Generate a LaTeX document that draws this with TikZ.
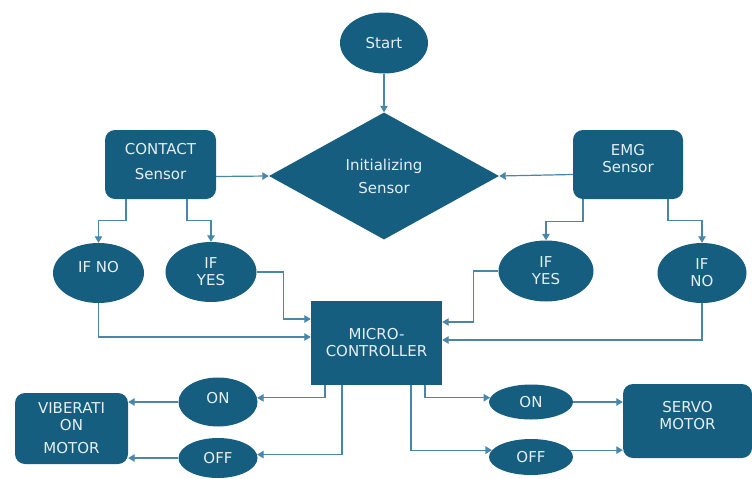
\documentclass[tikz,border=0pt]{standalone}
\usepackage{fontspec}
\setmainfont{DejaVu Sans}
\usepackage{tikz}
\usepackage{xcolor}
\usetikzlibrary{arrows.meta, shapes.geometric}

\definecolor{boxblue}{HTML}{165E7F}
\definecolor{lineblue}{HTML}{4A86A8}
\definecolor{boxtext}{HTML}{E6EEF2}

\begin{document}
\begin{tikzpicture}[
    x=1pt, y=-1pt,
    font=\fontsize{15}{17}\selectfont,
    oval/.style={
        ellipse,
        fill=boxblue,
        text=boxtext,
        align=center,
        inner sep=0pt
    },
    box/.style={
        rectangle,
        rounded corners=10pt,
        fill=boxblue,
        text=boxtext,
        align=center,
        inner sep=0pt
    },
    arrow/.style={-{Triangle[length=6.5pt,width=7.5pt]}, draw=lineblue, line width=1.2pt}
]

\useasboundingbox (0,0) rectangle (752,479);

\node[oval, minimum width=88pt, minimum height=61pt] (start) at (384,43) {Start};
\node[diamond, fill=boxblue, text=boxtext, align=center, inner sep=0pt,
      minimum width=230pt, minimum height=127pt] (init) at (384,176)
      {Initializing\\[6pt]Sensor};

\node[box, minimum width=111pt, minimum height=69pt] (contact) at (160.5,164.5)
      {CONTACT\\[8pt]Sensor\\[-10pt]};
\node[box, minimum width=110pt, minimum height=69pt] (emg) at (628,164.5)
      {EMG\\Sensor\\[-4pt]};

\node[oval, minimum width=91pt, minimum height=60pt] (ifnoL) at (98.5,273) {IF NO\\[-5pt]};
\node[oval, minimum width=91pt, minimum height=60pt] (ifyesL) at (211,272) {IF\\YES};
\node[oval, minimum width=95pt, minimum height=61pt] (ifyesR) at (546,271) {IF\\YES};
\node[oval, minimum width=89pt, minimum height=60pt] (ifnoR) at (702,273) {IF\\NO};

\node[rectangle, fill=boxblue, text=boxtext, align=center, inner sep=0pt,
      minimum width=131pt, minimum height=84pt] (mc) at (376.5,343)
      {MICRO-\\CONTROLLER};

\node[oval, minimum width=79pt, minimum height=49pt] (onL) at (218,402) {ON\\[-9pt]};
\node[oval, minimum width=79pt, minimum height=40pt] (offL) at (218,458) {OFF};
\node[box, minimum width=113pt, minimum height=71pt] (vib) at (71.5,428.5)
      {VIBERATI\\ON\\[6pt]MOTOR};

\node[oval, minimum width=84pt, minimum height=35pt] (onR) at (531,402) {ON};
\node[oval, minimum width=84pt, minimum height=36pt] (offR) at (531,457) {OFF};
\node[box, minimum width=129pt, minimum height=74pt] (servo) at (687.5,421)
      {SERVO\\MOTOR\\[-6pt]};

\draw[arrow] (start) -- (init);
\draw[arrow] ([yshift=-12pt]contact.east) -- (init.west);
\draw[arrow] ([yshift=-10pt]emg.west) -- (init.east);

\draw[arrow] ([xshift=-34.5pt]contact.south) -- ++(0,21) -| (ifnoL.north);
\draw[arrow] ([xshift=26.5pt]contact.south) -- ++(0,21) -| (ifyesL.north);
\draw[arrow] ([xshift=-45pt]emg.south) -- ++(0,22) -| (ifyesR.north);
\draw[arrow] ([xshift=40pt]emg.south) -- ++(0,21) -| (ifnoR.north);

\draw[arrow] (ifyesL.east) -- ++(27,0) |- ([yshift=24pt]mc.west);
\draw[arrow] (ifnoL.south) |- ([yshift=6pt]mc.west);
\draw[arrow] (ifyesR.west) -- ++(-25,0) |- ([yshift=21pt]mc.east);
\draw[arrow] (ifnoR.south) |- ([yshift=3pt]mc.east);

\draw[arrow] ([xshift=-51.5pt]mc.south) |- (onL.6);
\draw[arrow] ([xshift=-34.5pt]mc.south) |- (offL.5);
\draw[arrow] ([xshift=48.5pt]mc.south) |- (onR.174);
\draw[arrow] ([xshift=34.5pt]mc.south) |- (offR.170);

\draw[arrow] (onL.west) -- (onL.west -| vib.east);
\draw[arrow] (offL.west) -- (offL.west -| vib.east);
\draw[arrow] (onR.east) -- (onR.east -| servo.west);
\draw[arrow] (offR.10) -- (offR.10 -| servo.west);

\end{tikzpicture}
\end{document}
